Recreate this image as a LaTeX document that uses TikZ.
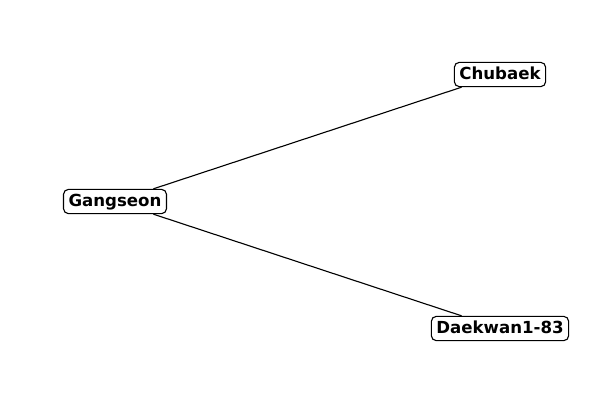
\documentclass[tikz,border=0pt]{standalone}
\usepackage{fontspec}
\setmainfont{DejaVu Sans}
\begin{document}
\begin{tikzpicture}[x=0.01in,y=-0.01in,
  place/.style={draw=black,fill=white,rounded corners=3.5pt,line width=0.8pt,
    inner xsep=3.6pt,inner ysep=0pt,text height=12.5pt,text depth=5pt,
    font=\fontsize{12}{14}\selectfont\bfseries},
  link/.style={draw=black,line width=0.8pt}]
\useasboundingbox (0,0) rectangle (600,400);
\node[place] (g) at (115,201.5) {Gangseon};
\node[place] (c) at (500,74.5) {Chubaek};
\node[place] (d) at (500,328.5) {Daekwan1-83};
\draw[link] (g) -- (c);
\draw[link] (g) -- (d);
\end{tikzpicture}
\end{document}
